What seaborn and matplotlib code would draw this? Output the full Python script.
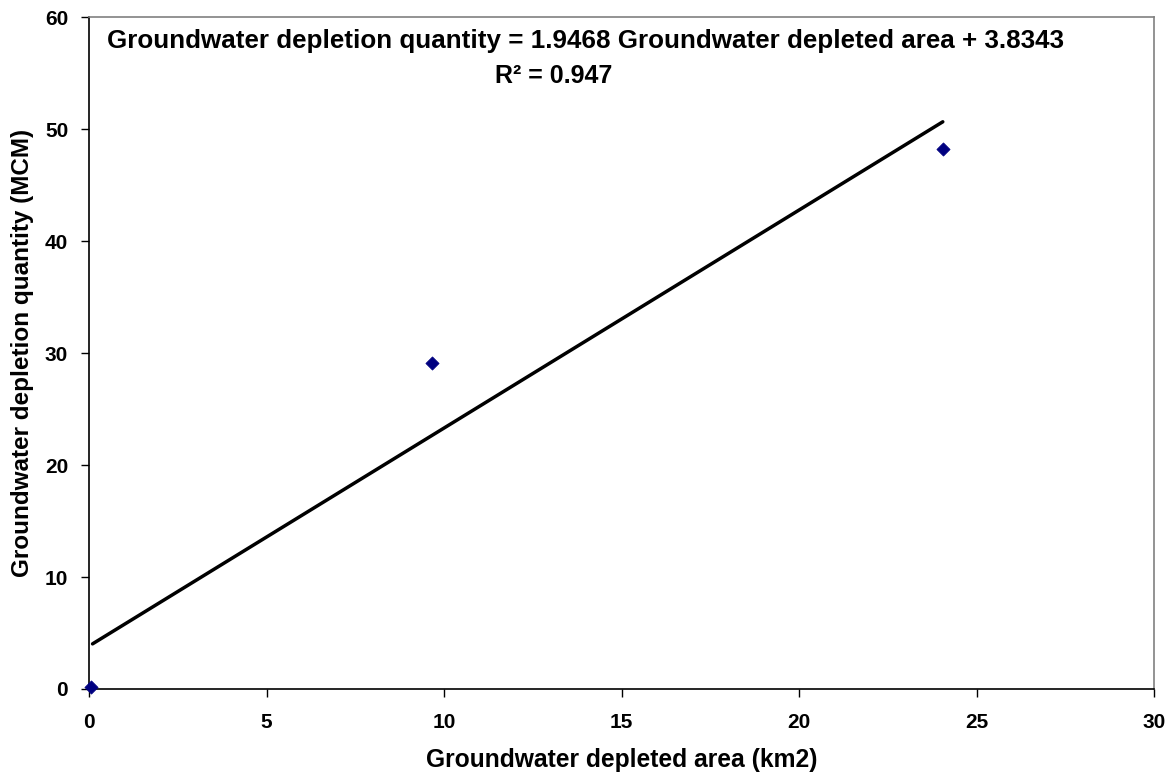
import matplotlib
matplotlib.use("Agg")
import matplotlib.pyplot as plt
import seaborn as sns
import numpy as np
import pandas as pd

area = [0.05, 9.65, 24.05]
quantity = [0.2, 29.1, 48.2]
slope = 1.9468
intercept = 3.8343
r2 = 0.947
x_ticks = [0, 5, 10, 15, 20, 25, 30]
y_ticks = [0, 10, 20, 30, 40, 50, 60]

sns.set_style("white")
plt.rcParams['font.family'] = ['Liberation Sans', 'DejaVu Sans']
plt.rcParams['font.weight'] = 'bold'
plt.rcParams['text.color'] = 'black'
plt.rcParams['axes.labelcolor'] = 'black'
plt.rcParams['xtick.color'] = 'black'
plt.rcParams['ytick.color'] = 'black'
plt.rcParams['xtick.bottom'] = True
plt.rcParams['ytick.left'] = True

fig = plt.figure(figsize=(11.71, 7.8), dpi=100)
ax = fig.add_axes([0.076, 0.1167, 0.9095, 0.8613])

df = pd.DataFrame({"area": area, "quantity": quantity})
fit_x = np.array([0.1, max(area)])
fit = pd.DataFrame({"x": fit_x, "y": slope * fit_x + intercept})
sns.lineplot(data=fit, x="x", y="y", color="black", linewidth=2.5, ax=ax)
sns.scatterplot(data=df, x="area", y="quantity", marker="D", s=45, color="#000080",
                edgecolor="#000080", ax=ax, zorder=5, clip_on=False)

ax.set_xlim(0, 30)
ax.set_ylim(0, 60)
ax.set_xticks(x_ticks)
ax.set_yticks(y_ticks)
ax.tick_params(axis="both", which="major", bottom=True, left=True, direction="out",
               length=6, width=1, labelsize=15, color="black", labelcolor="black")
for lab in ax.get_xticklabels() + ax.get_yticklabels():
    lab.set_fontweight("bold")
ax.tick_params(axis="x", pad=11)
ax.tick_params(axis="y", pad=9)
ax.spines["left"].set_color("black")
ax.spines["bottom"].set_color("black")
ax.spines["top"].set_color("#808080")
ax.spines["right"].set_color("#808080")
for s in ax.spines.values():
    s.set_linewidth(1.2)

ax.set_xlabel("Groundwater depleted area (km2)", fontsize=17.7, fontweight="bold", labelpad=12)
ax.set_ylabel("Groundwater depletion quantity (MCM)", fontsize=17.5, fontweight="bold", labelpad=8)

ax.text(0.466, 0.954, f"Groundwater depletion quantity = {slope} Groundwater depleted area + {intercept}",
        transform=ax.transAxes, ha="center", va="baseline", fontsize=18.7, fontweight="bold")
ax.text(0.436, 0.902, f"R\u00b2 = {r2}", transform=ax.transAxes, ha="center", va="baseline",
        fontsize=18, fontweight="bold")

fig.savefig("out.png", dpi=100)
